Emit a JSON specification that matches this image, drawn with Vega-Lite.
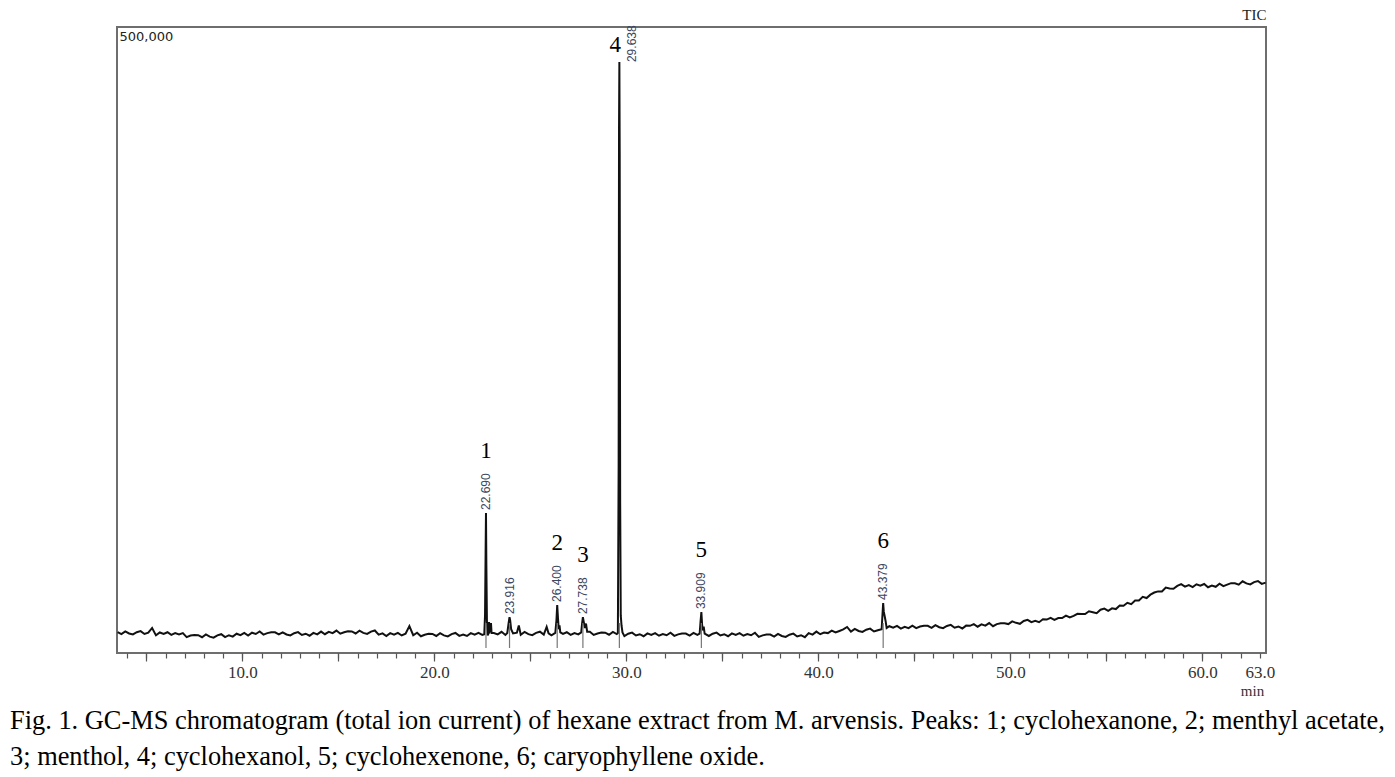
{
  "$schema": "https://vega.github.io/schema/vega-lite/v6.json",
  "width": 1149,
  "height": 626,
  "autosize": {"type": "none"},
  "padding": {"left": 117, "top": 27, "right": 129, "bottom": 124},
  "background": "white",
  "config": {
    "view": {"stroke": "#6e6e6e", "strokeWidth": 2},
    "axis": {"grid": false}
  },
  "title": {
    "text": ["Fig. 1. GC-MS chromatogram (total ion current) of hexane extract from M. arvensis. Peaks: 1; cyclohexanone, 2; menthyl acetate,", "3; menthol, 4; cyclohexanol, 5; cyclohexenone, 6; caryophyllene oxide."],
    "orient": "bottom",
    "anchor": "start",
    "frame": "group",
    "dx": -107,
    "offset": 10,
    "font": "Liberation Serif",
    "fontSize": 26.4,
    "fontWeight": "normal",
    "color": "#000000",
    "lineHeight": 36
  },
  "datasets": {
    "tic": [
      {"t":3.5,"v":16700},{"t":3.7,"v":15100},{"t":3.9,"v":17300},{"t":4.1,"v":15600},{"t":4.3,"v":14800},{"t":4.5,"v":16600},{"t":4.7,"v":17500},{"t":4.9,"v":15200},{"t":5.1,"v":16200},{"t":5.3,"v":20000},{"t":5.5,"v":14100},{"t":5.7,"v":16400},{"t":5.9,"v":15200},{"t":6.1,"v":16600},{"t":6.3,"v":14500},{"t":6.5,"v":15900},{"t":6.7,"v":14900},{"t":6.9,"v":15900},{"t":7.1,"v":12700},{"t":7.3,"v":13900},{"t":7.5,"v":14300},{"t":7.7,"v":14200},{"t":7.9,"v":12600},{"t":8.1,"v":14800},{"t":8.3,"v":13100},{"t":8.5,"v":12300},{"t":8.7,"v":14100},{"t":8.9,"v":15000},{"t":9.1,"v":12700},{"t":9.3,"v":14200},{"t":9.5,"v":13100},{"t":9.7,"v":15400},{"t":9.9,"v":14200},
      {"t":10.1,"v":16100},{"t":10.3,"v":14000},{"t":10.5,"v":16200},{"t":10.7,"v":15200},{"t":10.9,"v":17200},{"t":11.1,"v":14700},{"t":11.3,"v":15900},{"t":11.5,"v":16600},{"t":11.7,"v":16500},{"t":11.9,"v":14900},{"t":12.1,"v":16500},{"t":12.3,"v":14800},{"t":12.5,"v":14000},{"t":12.7,"v":15800},{"t":12.9,"v":16700},{"t":13.1,"v":14400},{"t":13.3,"v":15400},{"t":13.5,"v":13800},{"t":13.7,"v":16100},{"t":13.9,"v":14900},
      {"t":14.1,"v":17100},{"t":14.3,"v":15000},{"t":14.5,"v":16900},{"t":14.7,"v":15900},{"t":14.9,"v":17900},{"t":15.1,"v":15400},{"t":15.3,"v":16600},{"t":15.5,"v":17300},{"t":15.7,"v":17200},{"t":15.9,"v":15600},{"t":16.1,"v":17800},{"t":16.3,"v":16100},{"t":16.5,"v":15300},{"t":16.7,"v":17100},{"t":16.9,"v":18000},{"t":17.1,"v":14700},{"t":17.3,"v":15700},{"t":17.5,"v":13600},{"t":17.7,"v":15900},{"t":17.9,"v":14700},
      {"t":18.1,"v":16100},{"t":18.3,"v":14000},{"t":18.5,"v":15400},{"t":18.7,"v":21500},{"t":18.9,"v":14200},{"t":19.1,"v":16200},{"t":19.3,"v":13400},{"t":19.5,"v":14600},{"t":19.7,"v":15300},{"t":19.9,"v":15200},{"t":20.1,"v":13600},{"t":20.3,"v":15800},{"t":20.5,"v":14100},{"t":20.7,"v":13300},{"t":20.9,"v":15100},{"t":21.1,"v":16000},{"t":21.3,"v":13700},{"t":21.5,"v":14700},{"t":21.7,"v":13600},{"t":21.9,"v":15900},
      {"t":22.1,"v":14700},{"t":22.3,"v":16100},{"t":22.5,"v":14500},{"t":22.6,"v":15000},{"t":22.64,"v":30000},{"t":22.67,"v":80000},{"t":22.69,"v":111800},{"t":22.71,"v":70000},{"t":22.74,"v":25000},{"t":22.78,"v":14000},{"t":22.82,"v":16500},{"t":22.85,"v":24800},{"t":22.88,"v":17000},{"t":22.92,"v":18000},{"t":22.95,"v":24000},{"t":22.98,"v":16000},
      {"t":23.1,"v":15900},{"t":23.3,"v":14900},{"t":23.5,"v":16900},{"t":23.7,"v":14400},{"t":23.8,"v":16000},{"t":23.87,"v":24000},{"t":23.916,"v":28700},{"t":23.95,"v":26000},{"t":24.0,"v":19000},{"t":24.1,"v":15600},{"t":24.3,"v":16200},{"t":24.4,"v":22000},{"t":24.5,"v":14600},{"t":24.7,"v":16800},{"t":24.9,"v":15100},{"t":25.1,"v":14300},{"t":25.3,"v":16100},{"t":25.5,"v":17000},{"t":25.7,"v":14700},{"t":25.85,"v":20800},{"t":25.95,"v":15700},
      {"t":26.1,"v":14100},{"t":26.3,"v":16000},{"t":26.36,"v":26000},{"t":26.4,"v":38300},{"t":26.44,"v":28000},{"t":26.48,"v":19000},{"t":26.52,"v":22000},{"t":26.56,"v":16500},{"t":26.7,"v":15200},{"t":26.9,"v":16600},{"t":27.1,"v":14500},{"t":27.3,"v":15900},{"t":27.5,"v":14900},{"t":27.65,"v":16500},{"t":27.7,"v":24000},{"t":27.738,"v":28700},{"t":27.78,"v":25000},{"t":27.84,"v":20000},{"t":27.9,"v":23500},{"t":27.96,"v":17000},
      {"t":28.1,"v":16900},{"t":28.3,"v":14400},{"t":28.5,"v":15600},{"t":28.7,"v":16300},{"t":28.9,"v":16200},{"t":29.1,"v":14600},{"t":29.3,"v":16800},{"t":29.5,"v":15100},{"t":29.56,"v":16000},{"t":29.6,"v":150000},{"t":29.62,"v":420000},{"t":29.638,"v":472000},{"t":29.655,"v":400000},{"t":29.68,"v":120000},{"t":29.71,"v":30000},{"t":29.75,"v":22000},{"t":29.8,"v":16500},{"t":29.9,"v":13500},
      {"t":30.1,"v":15400},{"t":30.3,"v":16300},{"t":30.5,"v":14000},{"t":30.7,"v":15000},{"t":30.9,"v":13400},{"t":31.1,"v":15700},{"t":31.3,"v":14500},{"t":31.5,"v":15900},{"t":31.7,"v":13800},{"t":31.9,"v":15200},{"t":32.1,"v":14200},{"t":32.3,"v":16200},{"t":32.5,"v":13700},{"t":32.7,"v":14900},{"t":32.9,"v":15600},{"t":33.1,"v":15500},{"t":33.3,"v":13900},{"t":33.5,"v":16100},{"t":33.7,"v":14400},
      {"t":33.82,"v":15500},{"t":33.87,"v":26000},{"t":33.909,"v":32700},{"t":33.95,"v":22000},{"t":33.99,"v":18000},{"t":34.03,"v":21000},{"t":34.08,"v":15500},{"t":34.3,"v":13600},{"t":34.5,"v":15400},{"t":34.7,"v":16300},{"t":34.9,"v":14000},{"t":35.1,"v":15000},{"t":35.3,"v":13400},{"t":35.5,"v":15700},{"t":35.7,"v":14500},{"t":35.9,"v":15900},
      {"t":36.1,"v":13800},{"t":36.3,"v":15200},{"t":36.5,"v":14200},{"t":36.7,"v":16200},{"t":36.9,"v":12900},{"t":37.1,"v":14100},{"t":37.3,"v":14800},{"t":37.5,"v":14700},{"t":37.7,"v":13100},{"t":37.9,"v":15300},{"t":38.1,"v":13600},{"t":38.3,"v":12800},{"t":38.5,"v":14600},{"t":38.7,"v":15500},{"t":38.9,"v":13200},{"t":39.1,"v":14200},{"t":39.3,"v":12600},{"t":39.5,"v":15900},{"t":39.7,"v":14700},{"t":39.9,"v":17100},
      {"t":40.1,"v":15000},{"t":40.3,"v":16400},{"t":40.5,"v":15900},{"t":40.7,"v":17900},{"t":40.9,"v":16400},{"t":41.1,"v":17600},{"t":41.3,"v":18800},{"t":41.5,"v":20800},{"t":41.7,"v":17100},{"t":41.9,"v":19300},{"t":42.1,"v":17600},{"t":42.3,"v":16800},{"t":42.5,"v":18600},{"t":42.7,"v":19500},{"t":42.9,"v":17200},{"t":43.1,"v":18200},
      {"t":43.3,"v":19000},{"t":43.34,"v":30000},{"t":43.379,"v":39900},{"t":43.41,"v":33000},{"t":43.45,"v":30000},{"t":43.5,"v":26000},{"t":43.56,"v":20000},{"t":43.7,"v":21400},{"t":43.9,"v":20200},{"t":44.1,"v":21600},{"t":44.3,"v":19500},{"t":44.5,"v":20900},{"t":44.7,"v":19900},{"t":44.9,"v":21900},
      {"t":45.1,"v":19900},{"t":45.3,"v":21100},{"t":45.5,"v":21800},{"t":45.7,"v":21700},{"t":45.9,"v":20100},{"t":46.1,"v":22300},{"t":46.3,"v":20600},{"t":46.5,"v":19800},{"t":46.7,"v":21600},{"t":46.9,"v":22500},{"t":47.1,"v":20200},{"t":47.3,"v":21200},{"t":47.5,"v":19600},{"t":47.7,"v":21900},{"t":47.9,"v":21700},
      {"t":48.1,"v":23100},{"t":48.3,"v":21000},{"t":48.5,"v":22900},{"t":48.7,"v":21900},{"t":48.9,"v":23900},{"t":49.1,"v":21400},{"t":49.3,"v":23100},{"t":49.5,"v":23800},{"t":49.7,"v":23700},{"t":49.9,"v":23100},
      {"t":50.1,"v":25300},{"t":50.3,"v":24100},{"t":50.5,"v":23300},{"t":50.7,"v":25600},{"t":50.9,"v":26500},{"t":51.1,"v":24700},{"t":51.3,"v":25700},{"t":51.5,"v":24600},{"t":51.7,"v":26900},{"t":51.9,"v":26700},
      {"t":52.1,"v":28100},{"t":52.3,"v":26500},{"t":52.5,"v":27900},{"t":52.7,"v":27900},{"t":52.9,"v":29900},{"t":53.1,"v":28400},{"t":53.3,"v":29600},{"t":53.5,"v":31300},{"t":53.7,"v":31200},{"t":53.9,"v":31100},
      {"t":54.1,"v":33300},{"t":54.3,"v":32600},{"t":54.5,"v":31800},{"t":54.7,"v":34600},{"t":54.9,"v":35500},{"t":55.1,"v":33700},{"t":55.3,"v":35700},{"t":55.5,"v":35100},{"t":55.7,"v":37900},{"t":55.9,"v":37700},
      {"t":56.1,"v":40100},{"t":56.3,"v":39000},{"t":56.5,"v":41900},{"t":56.7,"v":41900},{"t":56.9,"v":44900},{"t":57.1,"v":43900},{"t":57.3,"v":46600},{"t":57.5,"v":48300},{"t":57.7,"v":49200},{"t":57.9,"v":49100},
      {"t":58.1,"v":52300},{"t":58.3,"v":51600},{"t":58.5,"v":51300},{"t":58.7,"v":53600},{"t":58.9,"v":55000},{"t":59.1,"v":53000},{"t":59.3,"v":54200},{"t":59.5,"v":52600},{"t":59.7,"v":54900},{"t":59.9,"v":53700},
      {"t":60.1,"v":55100},{"t":60.3,"v":52500},{"t":60.5,"v":53900},{"t":60.7,"v":52900},{"t":60.9,"v":55400},{"t":61.1,"v":53400},{"t":61.3,"v":54600},{"t":61.5,"v":55800},{"t":61.7,"v":55700},{"t":61.9,"v":54600},
      {"t":62.1,"v":57300},{"t":62.3,"v":55600},{"t":62.5,"v":54800},{"t":62.7,"v":56600},{"t":62.9,"v":57500},{"t":63.1,"v":55200},{"t":63.3,"v":56200}
    ],
    "peaks": [
      {"rt":22.69,"h":111800,"n":"1","lab":"22.690"},
      {"rt":23.916,"h":28700,"n":"","lab":"23.916"},
      {"rt":26.4,"h":38300,"n":"2","lab":"26.400"},
      {"rt":27.738,"h":28700,"n":"3","lab":"27.738"},
      {"rt":29.638,"h":472000,"n":"4","lab":"29.638"},
      {"rt":33.909,"h":32700,"n":"5","lab":"33.909"},
      {"rt":43.379,"h":39900,"n":"6","lab":"43.379"}
    ]
  },
  "resolve": {"axis": {"x": "independent", "y": "independent"}},
  "layer": [
    {
      "data": {"name": "tic"},
      "mark": {"type": "line", "color": "#111111", "strokeWidth": 2, "clip": true},
      "encoding": {
        "x": {
          "field": "t", "type": "quantitative",
          "scale": {"domain": [3.47, 63.32], "nice": false, "zero": false},
          "axis": {
            "orient": "bottom",
            "values": [5,10,15,20,25,30,35,40,45,50,55,60],
            "labelExpr": "datum.value % 10 == 0 ? format(datum.value, '.1f') : ''",
            "domain": false, "ticks": true, "tickSize": 8, "tickColor": "#555555", "tickWidth": 1.2,
            "labelFont": "Liberation Serif", "labelFontSize": 17, "labelColor": "#333333", "labelPadding": 3,
            "labelFlush": false, "labelOverlap": false,
            "title": "min", "titleFont": "Liberation Serif", "titleFontSize": 15, "titleFontWeight": "normal",
            "titleColor": "#333333", "titleX": 1135, "titleY": 30, "titleAlign": "center", "titleBaseline": "top", "titleAnchor": null
          }
        },
        "y": {
          "field": "v", "type": "quantitative",
          "scale": {"domain": [0, 500000], "nice": false},
          "axis": {
            "orient": "left",
            "values": [500000],
            "labelExpr": "'500,000'",
            "domain": false, "ticks": false, "tickSize": 0, "labelPadding": -2,
            "labelAlign": "left", "labelBaseline": "top", "labelOffset": 3,
            "labelFont": "DejaVu Sans", "labelFontSize": 13, "labelColor": "#222222",
            "title": "TIC", "titleAngle": 0, "titleX": 1149, "titleY": -5, "titleAlign": "right",
            "titleBaseline": "bottom", "titleFont": "Liberation Serif", "titleFontSize": 15,
            "titleFontWeight": "normal", "titleColor": "#222222"
          }
        }
      }
    },
    {
      "data": {"name": "peaks"},
      "mark": {"type": "rule", "color": "#777777", "strokeWidth": 1.2},
      "encoding": {
        "x": {
          "field": "rt", "type": "quantitative",
          "axis": {
            "orient": "bottom",
            "values": [4,5,6,7,8,9,10,11,12,13,14,15,16,17,18,19,20,21,22,23,24,25,26,27,28,29,30,31,32,33,34,35,36,37,38,39,40,41,42,43,44,45,46,47,48,49,50,51,52,53,54,55,56,57,58,59,60,61,62,63],
            "labelExpr": "datum.value == 63 ? '63.0' : ''",
            "domain": false, "ticks": true, "tickSize": 5, "tickColor": "#555555", "tickWidth": 1.2,
            "labelFont": "Liberation Serif", "labelFontSize": 17, "labelColor": "#333333", "labelPadding": 6,
            "labelFlush": false, "labelOverlap": false, "title": null
          }
        },
        "y": {"datum": 4000, "type": "quantitative", "axis": null},
        "y2": {"datum": 24000}
      }
    },
    {
      "data": {"name": "peaks"},
      "mark": {"type": "text", "angle": 270, "align": "left", "baseline": "middle", "dx": 3, "font": "Liberation Sans", "fontSize": 12, "color": "#3b4660"},
      "transform": [{"filter": "datum.n != '4'"}],
      "encoding": {
        "x": {"field": "rt", "type": "quantitative", "axis": null},
        "y": {"field": "h", "type": "quantitative", "axis": null},
        "text": {"field": "lab"}
      }
    },
    {
      "data": {"name": "peaks"},
      "mark": {"type": "text", "angle": 270, "align": "left", "baseline": "middle", "dx": 0, "dy": 13, "font": "Liberation Sans", "fontSize": 12, "color": "#3b4660"},
      "transform": [{"filter": "datum.n == '4'"}],
      "encoding": {
        "x": {"field": "rt", "type": "quantitative", "axis": null},
        "y": {"field": "h", "type": "quantitative", "axis": null},
        "text": {"field": "lab"}
      }
    },
    {
      "data": {"name": "peaks"},
      "mark": {"type": "text", "align": "center", "baseline": "middle", "dy": -62, "font": "Liberation Serif", "fontSize": 23, "color": "#000000"},
      "transform": [{"filter": "datum.n != '4' && datum.n != ''"}],
      "encoding": {
        "x": {"field": "rt", "type": "quantitative", "axis": null},
        "y": {"field": "h", "type": "quantitative", "axis": null},
        "text": {"field": "n"}
      }
    },
    {
      "data": {"name": "peaks"},
      "mark": {"type": "text", "align": "center", "baseline": "middle", "dx": -4, "dy": -17, "font": "Liberation Serif", "fontSize": 23, "color": "#000000"},
      "transform": [{"filter": "datum.n == '4'"}],
      "encoding": {
        "x": {"field": "rt", "type": "quantitative", "axis": null},
        "y": {"field": "h", "type": "quantitative", "axis": null},
        "text": {"field": "n"}
      }
    }
  ]
}
